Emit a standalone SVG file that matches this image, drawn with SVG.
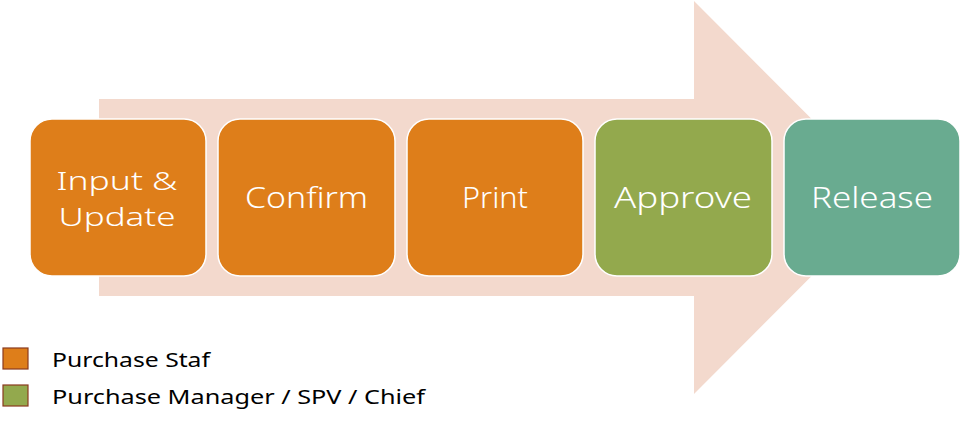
<svg xmlns="http://www.w3.org/2000/svg" width="964" height="429" viewBox="0 0 964 429">
<style>
.box{stroke:#ffffff;stroke-width:1.5}
.lbl{font-family:"Noto Sans","Liberation Sans",sans-serif;font-size:29px;font-weight:300;fill:#ffffff;text-anchor:middle}
.lbl2{font-size:26px}
.leg{font-family:"Noto Sans","Liberation Sans",sans-serif;font-size:20px;fill:#000000}
.sw{stroke:#8a3b1e;stroke-width:1.2}
</style>
<rect width="964" height="429" fill="#ffffff"/>
<g id="arrow">
<polygon points="99,99 694,99 694,1 890,197.5 694,394 694,296 99,296" fill="#f3d9cd"/>
</g>
<g id="connectors"></g>
<g id="node-input">
<rect class="box" x="30" y="119" width="176" height="157" rx="22" fill="#de7e1a"/>
<text class="lbl lbl2" x="117" y="190" textLength="121" lengthAdjust="spacingAndGlyphs">Input  &amp;</text>
<text class="lbl lbl2" x="117" y="226" textLength="117" lengthAdjust="spacingAndGlyphs">Update</text>
</g>
<g id="node-confirm">
<rect class="box" x="218" y="119" width="177" height="157" rx="22" fill="#de7e1a"/>
<text class="lbl" x="306.5" y="208" textLength="123" lengthAdjust="spacingAndGlyphs">Confirm</text>
</g>
<g id="node-print">
<rect class="box" x="407" y="119" width="176" height="157" rx="22" fill="#de7e1a"/>
<text class="lbl" x="495" y="208" textLength="66" lengthAdjust="spacingAndGlyphs">Print</text>
</g>
<g id="node-approve">
<rect class="box" x="595" y="119" width="177" height="157" rx="22" fill="#93a94d"/>
<text class="lbl" x="683" y="208" textLength="138" lengthAdjust="spacingAndGlyphs">Approve</text>
</g>
<g id="node-release">
<rect class="box" x="784" y="119" width="176" height="157" rx="22" fill="#69ab90"/>
<text class="lbl" x="872" y="208" textLength="122" lengthAdjust="spacingAndGlyphs">Release</text>
</g>
<g id="legend">
<rect class="sw" x="3" y="348" width="25" height="21" fill="#de7e1a"/>
<text class="leg" x="52" y="367" textLength="158" lengthAdjust="spacingAndGlyphs">Purchase Staf</text>
<rect class="sw" x="3" y="385" width="25" height="21" fill="#93a94d"/>
<text class="leg" x="52" y="404" textLength="373" lengthAdjust="spacingAndGlyphs">Purchase Manager / SPV / Chief</text>
</g>
</svg>
